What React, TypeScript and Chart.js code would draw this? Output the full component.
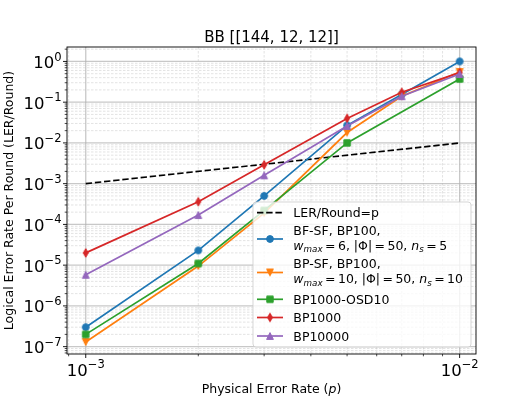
import React, { useEffect, useRef } from 'react';
import { Chart, registerables } from 'chart.js';

Chart.register(...registerables);

// ---------- data ----------
const TITLE = 'BB [[144, 12, 12]]';
const Y_TITLE = 'Logical Error Rate Per Round (LER/Round)';
const X_TITLE_PARTS = ['Physical Error Rate (', 'p', ')'];

const P = [0.001, 0.002, 0.003, 0.005, 0.007, 0.01];
const REF_P = [0.001, 0.01];
const REF_LER = [0.001, 0.01];
const BF_SF = [3.0e-7, 2.3e-5, 5.0e-4, 2.7e-2, 1.55e-1, 1.0];
const BP_SF = [1.3e-7, 9.5e-6, 1.9e-4, 1.8e-2, 1.4e-1, 0.55];
const BP1000_OSD10 = [2.0e-7, 1.1e-5, 2.2e-4, 1.0e-2, null, 0.37];
const BP1000 = [2.0e-5, 3.6e-4, 2.9e-3, 4.0e-2, 1.75e-1, 0.53];
const BP10000 = [5.8e-6, 1.7e-4, 1.6e-3, 2.6e-2, 1.4e-1, 0.49];

const X_TICK_EXP = [-3, -2];
const Y_TICK_EXP = [0, -1, -2, -3, -4, -5, -6, -7];
const X_MIN = 8.91e-4;
const X_MAX = 1.106e-2;
const Y_MIN = 6.6e-8;
const Y_MAX = 2.26;

type Seg = { t: string; it?: boolean; sub?: boolean; sup?: boolean; gap?: number };

const MS = 0.195; // mathtext relation spacing (em)
const LEGEND_REF: Seg[][] = [[{ t: 'LER/Round=p' }]];
const LEGEND_BF: Seg[][] = [
  [{ t: 'BF-SF, BP100,' }],
  [
    { t: 'w', it: true }, { t: 'max', it: true, sub: true }, { t: '', gap: MS }, { t: '=' }, { t: '', gap: MS }, { t: '6' },
    { t: ', |Φ|' }, { t: '', gap: MS }, { t: '=' }, { t: '', gap: MS }, { t: '50' },
    { t: ', ' }, { t: 'n', it: true }, { t: 's', it: true, sub: true }, { t: '', gap: MS }, { t: '=' }, { t: '', gap: MS }, { t: '5' },
  ],
];
const LEGEND_BP: Seg[][] = [
  [{ t: 'BP-SF, BP100,' }],
  [
    { t: 'w', it: true }, { t: 'max', it: true, sub: true }, { t: '', gap: MS }, { t: '=' }, { t: '', gap: MS }, { t: '10' },
    { t: ', |Φ|' }, { t: '', gap: MS }, { t: '=' }, { t: '', gap: MS }, { t: '50' },
    { t: ', ' }, { t: 'n', it: true }, { t: 's', it: true, sub: true }, { t: '', gap: MS }, { t: '=' }, { t: '', gap: MS }, { t: '10' },
  ],
];
const LEGEND_OSD: Seg[][] = [[{ t: 'BP1000-OSD10' }]];
const LEGEND_BP1000: Seg[][] = [[{ t: 'BP1000' }]];
const LEGEND_BP10000: Seg[][] = [[{ t: 'BP10000' }]];

const C_BLUE = '#1f77b4';
const C_ORANGE = '#ff7f0e';
const C_GREEN = '#2ca02c';
const C_RED = '#d62728';
const C_PURPLE = '#9467bd';

const FONT = '"DejaVu Sans", sans-serif';

// ---------- helpers ----------
function segFont(s: Seg, size: number) {
  const sz = s.sub || s.sup ? size * 0.7 : size;
  return `${s.it ? 'italic ' : ''}${sz}px ${FONT}`;
}
function segWidth(ctx: CanvasRenderingContext2D, s: Seg, size: number) {
  if (s.gap) return s.gap * size;
  ctx.font = segFont(s, size);
  return ctx.measureText(s.t).width;
}
function richWidth(ctx: CanvasRenderingContext2D, segs: Seg[], size: number) {
  let w = 0;
  for (const s of segs) w += segWidth(ctx, s, size);
  return w;
}
function drawRich(ctx: CanvasRenderingContext2D, segs: Seg[], x: number, y: number, size: number, align: 'left' | 'center' | 'right' = 'left') {
  const w = richWidth(ctx, segs, size);
  let cx = align === 'left' ? x : align === 'center' ? x - w / 2 : x - w;
  ctx.textAlign = 'left';
  ctx.textBaseline = 'alphabetic';
  for (const s of segs) {
    const sw = segWidth(ctx, s, size);
    if (!s.gap && s.t) {
      ctx.font = segFont(s, size);
      const dy = s.sub ? size * 0.2 : s.sup ? -size * 0.45 : 0;
      ctx.fillText(s.t, cx, y + dy);
    }
    cx += sw;
  }
}
function powLabel(e: number): Seg[] {
  return [{ t: '10' }, { t: (e < 0 ? '\u2212' : '') + Math.abs(e), sup: true }];
}

function makeMarker(shape: string, color: string) {
  const c = document.createElement('canvas');
  c.width = 14;
  c.height = 14;
  const g = c.getContext('2d')!;
  g.translate(7, 7);
  g.fillStyle = color;
  g.strokeStyle = color;
  g.lineWidth = 1;
  g.lineJoin = 'miter';
  g.beginPath();
  if (shape === 'circle') g.arc(0, 0, 3.4, 0, Math.PI * 2);
  else if (shape === 'square') g.rect(-3.2, -3.2, 6.4, 6.4);
  else if (shape === 'triUp') { g.moveTo(0, -3.4); g.lineTo(3.4, 3.4); g.lineTo(-3.4, 3.4); }
  else if (shape === 'triDown') { g.moveTo(0, 3.4); g.lineTo(3.4, -3.4); g.lineTo(-3.4, -3.4); }
  else if (shape === 'thinDiamond') { g.moveTo(0, -4.3); g.lineTo(2.5, 0); g.lineTo(0, 4.3); g.lineTo(-2.5, 0); }
  g.closePath();
  g.fill();
  g.stroke();
  return c;
}

function minorValues(min: number, max: number, n0: number, n1: number) {
  const out: number[] = [];
  for (let n = n0; n <= n1; n++) {
    for (let k = 2; k <= 9; k++) {
      const v = k * Math.pow(10, n);
      if (v >= min && v <= max) out.push(v);
    }
  }
  return out;
}

export default function App() {
  const ref = useRef<HTMLCanvasElement>(null);

  useEffect(() => {
    const mk = {
      blue: makeMarker('circle', C_BLUE),
      orange: makeMarker('triDown', C_ORANGE),
      green: makeMarker('square', C_GREEN),
      red: makeMarker('thinDiamond', C_RED),
      purple: makeMarker('triUp', C_PURPLE),
    };

    const xy = (xs: number[], ys: (number | null)[]) => xs.map((x, i) => ({ x, y: ys[i] }));

    const lineDs = (label: string, ys: (number | null)[], color: string, marker: HTMLCanvasElement, order: number) => ({
      label,
      data: xy(P, ys),
      borderColor: color,
      backgroundColor: color,
      borderWidth: 1.7,
      pointStyle: marker,
      pointRadius: 3.5,
      pointHoverRadius: 3.5,
      spanGaps: true,
      order,
    });

    const decor = {
      id: 'decor',
      beforeDatasetsDraw(chart: any) {
        const ctx: CanvasRenderingContext2D = chart.ctx;
        const { left, right, top, bottom } = chart.chartArea;
        const xs = chart.scales.x;
        const ys = chart.scales.y;
        ctx.save();
        // minor grid
        ctx.strokeStyle = 'rgba(176,176,176,0.45)';
        ctx.lineWidth = 0.8;
        ctx.setLineDash([2.5, 1.5]);
        for (const v of minorValues(X_MIN, X_MAX, -4, -2)) {
          const px = xs.getPixelForValue(v);
          ctx.beginPath(); ctx.moveTo(px, top); ctx.lineTo(px, bottom); ctx.stroke();
        }
        for (const v of minorValues(Y_MIN, Y_MAX, -8, 0)) {
          const py = ys.getPixelForValue(v);
          ctx.beginPath(); ctx.moveTo(left, py); ctx.lineTo(right, py); ctx.stroke();
        }
        // major grid
        ctx.setLineDash([]);
        ctx.strokeStyle = 'rgba(176,176,176,0.7)';
        ctx.lineWidth = 1.3;
        for (const e of X_TICK_EXP) {
          const px = xs.getPixelForValue(Math.pow(10, e));
          ctx.beginPath(); ctx.moveTo(px, top); ctx.lineTo(px, bottom); ctx.stroke();
        }
        for (const e of Y_TICK_EXP) {
          const py = ys.getPixelForValue(Math.pow(10, e));
          ctx.beginPath(); ctx.moveTo(left, py); ctx.lineTo(right, py); ctx.stroke();
        }
        ctx.restore();
      },
      afterDatasetsDraw(chart: any) {
        const ctx: CanvasRenderingContext2D = chart.ctx;
        const { left, right, top, bottom } = chart.chartArea;
        const xs = chart.scales.x;
        const ys = chart.scales.y;
        ctx.save();
        // spines
        ctx.strokeStyle = '#000';
        ctx.lineWidth = 0.9;
        ctx.strokeRect(left, top, right - left, bottom - top);
        // ticks
        ctx.lineWidth = 0.9;
        for (const e of X_TICK_EXP) {
          const px = xs.getPixelForValue(Math.pow(10, e));
          ctx.beginPath(); ctx.moveTo(px, bottom); ctx.lineTo(px, bottom + 4); ctx.stroke();
        }
        for (const e of Y_TICK_EXP) {
          const py = ys.getPixelForValue(Math.pow(10, e));
          ctx.beginPath(); ctx.moveTo(left, py); ctx.lineTo(left - 4, py); ctx.stroke();
        }
        ctx.lineWidth = 0.7;
        for (const v of minorValues(X_MIN, X_MAX, -4, -2)) {
          const px = xs.getPixelForValue(v);
          ctx.beginPath(); ctx.moveTo(px, bottom); ctx.lineTo(px, bottom + 2.3); ctx.stroke();
        }
        for (const v of minorValues(Y_MIN, Y_MAX, -8, 0)) {
          const py = ys.getPixelForValue(v);
          ctx.beginPath(); ctx.moveTo(left, py); ctx.lineTo(left - 2.3, py); ctx.stroke();
        }
        // tick labels
        ctx.fillStyle = '#000';
        const TS = 16.5;
        for (const e of X_TICK_EXP) {
          const px = xs.getPixelForValue(Math.pow(10, e));
          drawRich(ctx, powLabel(e), px, bottom + 21.5, TS, 'center');
        }
        for (const e of Y_TICK_EXP) {
          const py = ys.getPixelForValue(Math.pow(10, e));
          drawRich(ctx, powLabel(e), left - 5.5, py + 6.5, TS, 'right');
        }
        // axis titles
        const cxm = (left + right) / 2;
        drawRich(ctx, [{ t: X_TITLE_PARTS[0] }, { t: X_TITLE_PARTS[1], it: true }, { t: X_TITLE_PARTS[2] }], cxm, 393, 12.5, 'center');
        ctx.save();
        ctx.translate(12.5, (top + bottom) / 2);
        ctx.rotate(-Math.PI / 2);
        drawRich(ctx, [{ t: Y_TITLE }], 0, 0, 12.5, 'center');
        ctx.restore();
        // title
        drawRich(ctx, [{ t: TITLE }], cxm, 41.5, 15, 'center');

        // legend
        const lx0 = 253, ly0 = 202, lx1 = 471, ly1 = 347, r = 3;
        ctx.beginPath();
        ctx.moveTo(lx0 + r, ly0);
        ctx.arcTo(lx1, ly0, lx1, ly1, r);
        ctx.arcTo(lx1, ly1, lx0, ly1, r);
        ctx.arcTo(lx0, ly1, lx0, ly0, r);
        ctx.arcTo(lx0, ly0, lx1, ly0, r);
        ctx.closePath();
        ctx.fillStyle = 'rgba(255,255,255,0.8)';
        ctx.fill();
        ctx.strokeStyle = 'rgba(204,204,204,0.8)';
        ctx.lineWidth = 1;
        ctx.stroke();

        const hx0 = 257, hx1 = 283, hm = 270, tx = 293.3, LS = 12.5, capOff = 4.6;
        const entries: { lines: Seg[][]; ys: number[]; my: number; color: string; marker?: HTMLCanvasElement; dash?: boolean }[] = [
          { lines: LEGEND_REF, ys: [212.7], my: 212.7, color: '#000', dash: true },
          { lines: LEGEND_BF, ys: [230.7, 245.2], my: 239, color: C_BLUE, marker: mk.blue },
          { lines: LEGEND_BP, ys: [263.5, 278.5], my: 272.5, color: C_ORANGE, marker: mk.orange },
          { lines: LEGEND_OSD, ys: [299.3], my: 299.3, color: C_GREEN, marker: mk.green },
          { lines: LEGEND_BP1000, ys: [317.5], my: 317.5, color: C_RED, marker: mk.red },
          { lines: LEGEND_BP10000, ys: [336], my: 336, color: C_PURPLE, marker: mk.purple },
        ];
        for (const en of entries) {
          ctx.strokeStyle = en.color;
          ctx.lineWidth = 1.7;
          ctx.setLineDash(en.dash ? [6.4, 2.8] : []);
          ctx.beginPath(); ctx.moveTo(hx0, en.my); ctx.lineTo(hx1, en.my); ctx.stroke();
          ctx.setLineDash([]);
          if (en.marker) ctx.drawImage(en.marker, hm - 7, en.my - 7);
          ctx.fillStyle = '#000';
          en.lines.forEach((ln, i) => drawRich(ctx, ln, tx, en.ys[i] + capOff, LS, 'left'));
        }
        ctx.restore();
      },
    };

    const chart = new Chart(ref.current!, {
      type: 'line',
      data: {
        datasets: [
          {
            label: 'LER/Round=p',
            data: xy(REF_P, REF_LER),
            borderColor: '#000',
            borderWidth: 1.7,
            borderDash: [6.4, 2.8],
            pointRadius: 0,
            order: 10,
          } as any,
          lineDs('BF-SF, BP100, w_max=6, |Φ|=50, n_s=5', BF_SF, C_BLUE, mk.blue, 9),
          lineDs('BP-SF, BP100, w_max=10, |Φ|=50, n_s=10', BP_SF, C_ORANGE, mk.orange, 8),
          lineDs('BP1000-OSD10', BP1000_OSD10, C_GREEN, mk.green, 7),
          lineDs('BP1000', BP1000, C_RED, mk.red, 6),
          lineDs('BP10000', BP10000, C_PURPLE, mk.purple, 5),
        ],
      },
      options: {
        animation: false,
        responsive: false,
        devicePixelRatio: 1,
        layout: { padding: { left: 0, top: 47, right: 55, bottom: 0 } },
        plugins: { legend: { display: false }, tooltip: { enabled: false }, title: { display: false } },
        events: [],
        scales: {
          x: {
            type: 'logarithmic',
            min: X_MIN,
            max: X_MAX,
            bounds: 'data',
            ticks: { display: false },
            grid: { display: false },
            border: { display: false },
            afterFit: (s: any) => { s.height = 45; },
          },
          y: {
            type: 'logarithmic',
            min: Y_MIN,
            max: Y_MAX,
            bounds: 'data',
            ticks: { display: false },
            grid: { display: false },
            border: { display: false },
            afterFit: (s: any) => { s.width = 67; },
          },
        },
      } as any,
      plugins: [decor],
    });
    return () => chart.destroy();
  }, []);

  return (
    <div style={{ position: 'fixed', left: 0, top: 0, width: 531, height: 399, background: '#fff' }}>
      <canvas ref={ref} width={531} height={399} style={{ width: 531, height: 399, display: 'block' }} />
    </div>
  );
}
